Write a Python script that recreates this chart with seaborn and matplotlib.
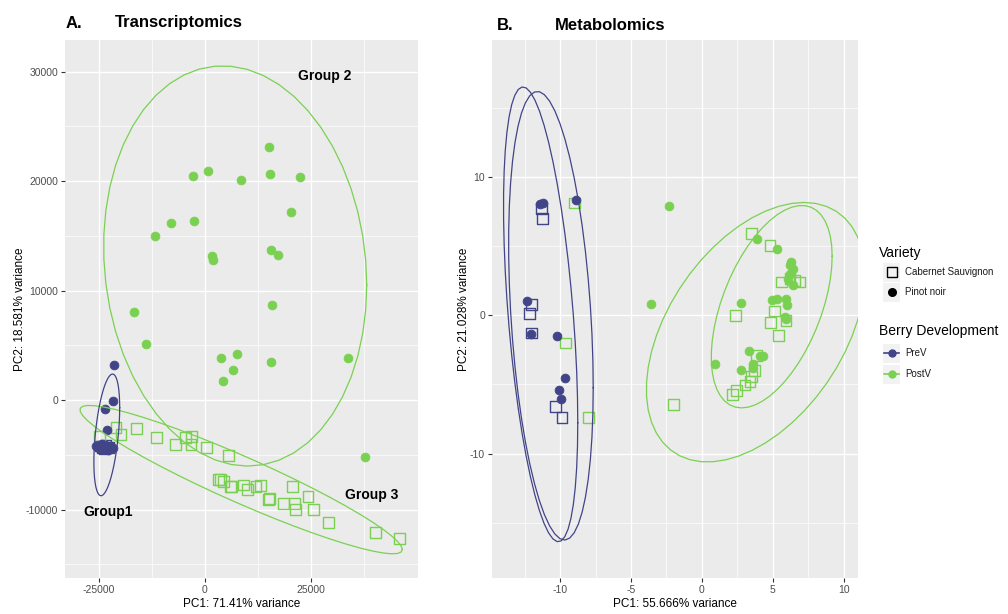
import numpy as np
import pandas as pd
import matplotlib
matplotlib.use("Agg")
import matplotlib.pyplot as plt
import seaborn as sns
from matplotlib.lines import Line2D
from matplotlib.patches import Rectangle

# ---------------- data ----------------
PREV_COLOR = "#414487"
POSTV_COLOR = "#7AD151"

# Panel A: Transcriptomics
a_prev_pinot_x = [-21300, -21500, -23400, -23000, -25600, -24200, -23300, -22400, -21600, -23900, -22700]
a_prev_pinot_y = [3200, -60, -820, -2740, -4170, -4050, -4260, -4170, -4350, -4500, -4570]
a_prev_cab_x = [-24600, -24000, -23300, -22600, -23600, -24200]
a_prev_cab_y = [-4200, -4300, -4150, -4350, -4400, -4250]
a_post_pinot_x = [15170, -2840, 710, 8530, 15400, 22510, 20380, -8060, -2610, -11610, 1660, 1900,
                  15640, 17300, -16590, 15880, -13740, 3790, 7580, 6640, 4270, 15640, 33650, 37680]
a_post_pinot_y = [23100, 20460, 20910, 20090, 20640, 20370, 17170, 16160, 16350, 14980, 13150, 12790,
                  13700, 13240, 8040, 8680, 5110, 3840, 4200, 2740, 1740, 3470, 3840, -5200]
a_post_cab_x = [-20920, -16110, -19740, -11300, -6800, -4500, -3160, -3240, 470, 5610, 3160, 3790, 4420,
                6080, 6240, 9080, 10110, 12090, 13110, 14930, 15250, 18480, 20700, 21170, 21330, 24330,
                25670, 29070, 40280, 45810, -24700]
a_post_cab_y = [-2470, -2560, -3140, -3380, -4020, -3440, -3350, -4080, -4320, -5050, -7220, -7250, -7430,
                -7880, -7920, -7760, -8160, -7920, -7790, -9070, -9010, -9440, -7920, -9410, -10020, -8770,
                -10020, -11200, -12090, -12660, -3350]

# Panel B: Metabolomics
b_prev_pinot_x = [-11.41, -11.17, -8.87, -12.30, -12.04, -10.23, -9.65, -10.11, -9.95]
b_prev_pinot_y = [8.07, 8.11, 8.30, 1.01, -1.37, -1.47, -4.52, -5.42, -6.06]
b_prev_cab_x = [-11.29, -11.22, -12.02, -12.18, -12.02, -10.30, -9.86]
b_prev_cab_y = [7.70, 6.98, 0.77, 0.12, -1.28, -6.62, -7.41]
b_post_pinot_x = [-2.30, -3.59, 3.90, 5.30, 6.31, 6.20, 6.43, 6.20, 6.43, 6.08, 2.75, 4.91, 5.26, 5.92,
                  6.01, 5.85, 5.92, 0.92, 3.31, 4.08, 4.27, 3.57, 2.72, 3.61]
b_post_pinot_y = [7.87, 0.79, 5.49, 4.81, 3.85, 3.61, 3.37, 3.01, 2.17, 2.65, 0.89, 1.08, 1.20, 1.16,
                  0.72, -0.12, -0.24, -3.54, -2.60, -2.96, -2.96, -3.54, -3.97, -3.85]
b_post_cab_x = [-8.99, -9.63, -7.98, -2.02, 3.50, 4.79, 5.61, 6.90, 6.20, 6.55, 2.39, 5.14, 4.84, 5.92,
                5.38, 3.85, 3.73, 3.50, 3.38, 3.03, 2.44, 2.16]
b_post_cab_y = [8.11, -2.00, -7.41, -6.45, 5.90, 5.05, 2.41, 2.41, 2.65, 2.53, 0.00, 0.31, -0.55, -0.36,
                -1.44, -2.89, -3.97, -4.45, -4.81, -5.05, -5.46, -5.73]

a_xticks = [-25000, 0, 25000]
a_yticks = [-10000, 0, 10000, 20000, 30000]
b_xticks = [-10, -5, 0, 5, 10]
b_yticks = [-10, 0, 10]

# ---------------- helpers ----------------
def cov_trob(X, nu=5, maxit=25, tol=0.01):
    n, p = X.shape
    wt = np.ones(n)
    loc = X.mean(0)
    w = np.sqrt(wt)
    Xc = X - loc
    for _ in range(maxit):
        w0 = w
        Xc = X - loc
        _, d, Vt = np.linalg.svd(np.sqrt(w / w.sum())[:, None] * Xc, full_matrices=False)
        wX = Xc @ Vt.T @ np.diag(1 / d)
        Q = (wX ** 2).sum(1)
        w = wt * (nu + p) / (nu + Q)
        loc = (w[:, None] * X).sum(0) / w.sum()
        if np.all(np.abs(w - w0) < tol):
            break
    S = np.sqrt(w)[:, None] * Xc
    return loc, S.T @ S / wt.sum()


def ellipse_path(x, y, level=0.95, segments=51):
    X = np.column_stack([x, y]).astype(float)
    n = len(X)
    dfd = n - 1
    qf = (dfd / 2.0) * ((1 - level) ** (-2.0 / dfd) - 1)
    radius = np.sqrt(2 * qf)
    center, shape = cov_trob(X)
    R = np.linalg.cholesky(shape).T
    ang = np.arange(segments + 1) * 2 * np.pi / segments
    circ = np.column_stack([np.cos(ang), np.sin(ang)])
    return center + radius * (circ @ R)


def style_panel(ax):
    ax.set_facecolor("#EBEBEB")
    ax.grid(True, which="major", color="white", lw=1.0)
    ax.grid(True, which="minor", color="white", lw=0.5)
    ax.set_axisbelow(True)
    for s in ax.spines.values():
        s.set_visible(False)
    ax.tick_params(which="major", length=3, width=0.8, color="#333333",
                   labelcolor="#4D4D4D", labelsize=7.5, pad=2)
    ax.tick_params(which="minor", length=0)


def draw_groups(ax, groups):
    for gx, gy, col, filled in groups:
        df = pd.DataFrame({"x": gx, "y": gy})
        if filled:
            sns.scatterplot(data=df, x="x", y="y", ax=ax, color=col, marker="o", s=40,
                            edgecolor=col, linewidth=0.6, zorder=3)
        else:
            sns.scatterplot(data=df, x="x", y="y", ax=ax, color=col, marker="s", s=60,
                            facecolor="none", edgecolor=col, linewidth=1.0, zorder=3)
    for gx, gy, col, filled in groups:
        e = ellipse_path(gx, gy)
        ax.plot(e[:, 0], e[:, 1], color=col, lw=0.9, zorder=4)


# ---------------- figure ----------------
plt.rcParams["font.family"] = ["Liberation Sans", "DejaVu Sans"]
fig = plt.figure(figsize=(10.08, 6.14), dpi=100)
W, H = 1008, 614

axA = fig.add_axes([65 / W, 1 - 578 / H, (418 - 65) / W, (578 - 40) / H])
axB = fig.add_axes([492 / W, 1 - 578 / H, (858 - 492) / W, (578 - 40) / H])

groupsA = [
    (a_prev_cab_x, a_prev_cab_y, PREV_COLOR, False),
    (a_post_cab_x, a_post_cab_y, POSTV_COLOR, False),
    (a_prev_pinot_x, a_prev_pinot_y, PREV_COLOR, True),
    (a_post_pinot_x, a_post_pinot_y, POSTV_COLOR, True),
]
groupsB = [
    (b_prev_cab_x, b_prev_cab_y, PREV_COLOR, False),
    (b_post_cab_x, b_post_cab_y, POSTV_COLOR, False),
    (b_prev_pinot_x, b_prev_pinot_y, PREV_COLOR, True),
    (b_post_pinot_x, b_post_pinot_y, POSTV_COLOR, True),
]

for ax in (axA, axB):
    style_panel(ax)

draw_groups(axA, groupsA)
draw_groups(axB, groupsB)

axA.set_xlim(-32900, 50200)
axA.set_ylim(-16250, 32900)
axA.set_xticks(a_xticks)
axA.set_yticks(a_yticks)
axA.set_xticks([-12500, 12500, 37500], minor=True)
axA.set_yticks([-15000, -5000, 5000, 15000, 25000], minor=True)
axA.set_xticklabels([str(v) for v in a_xticks])
axA.set_yticklabels([str(v) for v in a_yticks])

axB.set_xlim(-14.8, 11.0)
axB.set_ylim(-19.0, 19.9)
axB.set_xticks(b_xticks)
axB.set_yticks(b_yticks)
axB.set_xticks([-12.5, -7.5, -2.5, 2.5, 7.5], minor=True)
axB.set_yticks([-15, -5, 5, 15], minor=True)
axB.set_xticklabels([str(v) for v in b_xticks])
axB.set_yticklabels([str(v) for v in b_yticks])

axA.set_xlabel("PC1: 71.41% variance", fontsize=8.5, labelpad=2)
axA.set_ylabel("PC2: 18.581% variance", fontsize=8.5, labelpad=0)
axB.set_xlabel("PC1: 55.666% variance", fontsize=8.5, labelpad=2)
axB.set_ylabel("PC2: 21.028% variance", fontsize=8.5, labelpad=0)

# group annotations
axA.text(28200, 29600, "Group 2", fontsize=10, fontweight="bold", ha="center", va="center")
axA.text(39300, -8700, "Group 3", fontsize=10, fontweight="bold", ha="center", va="center")
axA.text(-22700, -10250, "Group1", fontsize=10, fontweight="bold", ha="center", va="center")

# panel titles
fig.text(66 / W, 1 - 23 / H, "A.", fontsize=12, fontweight="bold", va="center")
fig.text(115 / W, 1 - 23 / H, "Transcriptomics", fontsize=12, fontweight="bold", va="center")
fig.text(497 / W, 1 - 26 / H, "B.", fontsize=12, fontweight="bold", va="center")
fig.text(555 / W, 1 - 26 / H, "Metabolomics", fontsize=12, fontweight="bold", va="center")

# legends (drawn in figure pixel positions)
def fx(px):
    return px / W

def fy(py):
    return 1 - py / H

fig.text(fx(879), fy(253), "Variety", fontsize=10, va="center", ha="left")
fig.text(fx(879), fy(331), "Berry Development", fontsize=10, va="center", ha="left")
key_rows = [
    (272, "Cabernet Sauvignon", "square"),
    (292, "Pinot noir", "circle"),
    (353, "PreV", PREV_COLOR),
    (374, "PostV", POSTV_COLOR),
]
for py, label, kind in key_rows:
    fig.add_artist(Rectangle((fx(883), fy(py + 9.5)), 17 / W, 19 / H,
                             transform=fig.transFigure, facecolor="#F2F2F2", edgecolor="none"))
    if kind == "square":
        fig.add_artist(Line2D([fx(891.5)], [fy(py)], marker="s", markersize=6.5, markerfacecolor="none",
                              markeredgecolor="black", markeredgewidth=1.0, transform=fig.transFigure))
    elif kind == "circle":
        fig.add_artist(Line2D([fx(891.5)], [fy(py)], marker="o", markersize=5.5, color="black",
                              transform=fig.transFigure))
    else:
        fig.add_artist(Line2D([fx(884), fx(899)], [fy(py), fy(py)], color=kind, lw=1.2,
                              transform=fig.transFigure))
        fig.add_artist(Line2D([fx(891.5)], [fy(py)], marker="o", markersize=5, color=kind,
                              transform=fig.transFigure))
    fig.text(fx(905), fy(py), label, fontsize=7, va="center", ha="left", color="#1A1A1A")

fig.savefig("out.png", dpi=100)
